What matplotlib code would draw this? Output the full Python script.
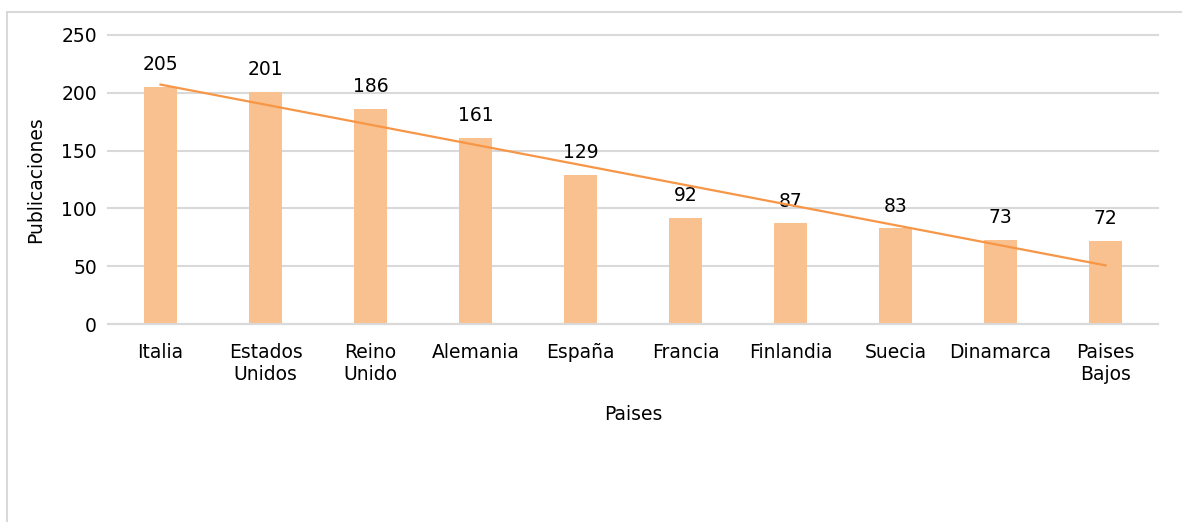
import numpy as np
import matplotlib
matplotlib.use("Agg")
import matplotlib.pyplot as plt
from matplotlib.patches import Rectangle

paises = ["Italia", "Estados\nUnidos", "Reino\nUnido", "Alemania", "España",
          "Francia", "Finlandia", "Suecia", "Dinamarca", "Paises\nBajos"]
publicaciones = [205, 201, 186, 161, 129, 92, 87, 83, 73, 72]

plt.rcParams["font.family"] = ["DejaVu Sans"]

fig = plt.figure(figsize=(11.82, 5.22), dpi=100)
ax = fig.add_axes([0.0914, 0.3793, 0.8883, 0.5537])

# outer chart frame (runs off the right and bottom edges)
fig.patches.append(Rectangle((7 / 1182, -0.1), 1.1, 1.1 - 12 / 522,
                             transform=fig.transFigure, fill=False,
                             edgecolor="#D9D9D9", linewidth=1.5))

x = np.arange(len(paises))
ax.bar(x, publicaciones, width=0.31, color="#F9C18F", zorder=2)

for xi, v in zip(x, publicaciones):
    ax.annotate(str(v), (xi, v), xytext=(0, 9), textcoords="offset points",
                ha="center", va="bottom", fontsize=13.5)

# linear trendline
m, b = np.polyfit(x, publicaciones, 1)
ax.plot(x, m * x + b, color="#F79646", linewidth=1.6, zorder=3)

ax.set_xlim(-0.5, len(paises) - 0.5)
ax.set_ylim(0, 250)
ax.set_yticks(range(0, 251, 50))
ax.set_xticks(x)
ax.set_xticklabels(paises)
ax.yaxis.grid(True, color="#D9D9D9", linewidth=1.5, zorder=0)
for gl in ax.get_ygridlines():
    gl.set_clip_on(False)
ax.set_axisbelow(True)
for s in ["top", "right", "left"]:
    ax.spines[s].set_visible(False)
ax.spines["bottom"].set_color("#D9D9D9")
ax.spines["bottom"].set_linewidth(1.5)
ax.tick_params(axis="both", length=0, labelsize=13.5, pad=8)
ax.tick_params(axis="x", pad=14)

ax.set_ylabel("Publicaciones", fontsize=13.5, labelpad=12)
ax.set_xlabel("Paises", fontsize=13.5, labelpad=15)

fig.savefig("out.png", dpi=100)
